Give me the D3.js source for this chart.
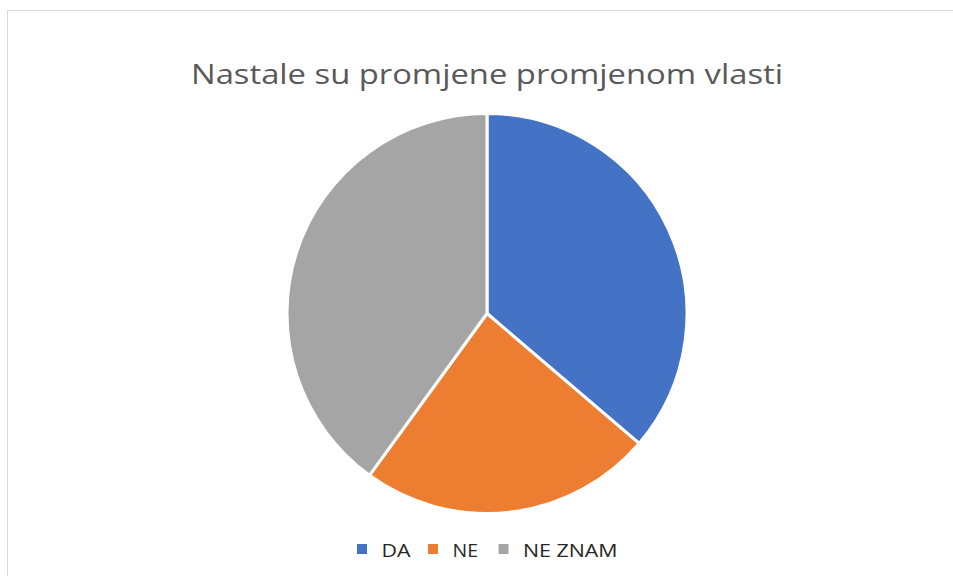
<!DOCTYPE html>
<html><head><meta charset="utf-8">
<script src="https://cdn.jsdelivr.net/npm/d3@7"></script>
<style>body{margin:0;background:#fff}svg{display:block}</style>
</head><body>
<script>
const categories = ["DA", "NE", "NE ZNAM"];
const values = [29, 19, 32];
const colors = ["#4472C4", "#ED7D31", "#A5A5A5"];
const title = "Nastale su promjene promjenom vlasti";

const W = 953, H = 576;
const svg = d3.select("body").append("svg").attr("width", W).attr("height", H);
svg.append("rect").attr("x", 7.5).attr("y", 10.5).attr("width", W).attr("height", H)
  .attr("fill", "#fff").attr("stroke", "#d9d9d9").attr("stroke-width", 1);

svg.append("text").attr("x", 487).attr("y", 84).attr("text-anchor", "middle")
  .attr("font-family", "Open Sans, Liberation Sans, sans-serif").attr("font-size", 28)
  .attr("fill", "#595959").attr("textLength", 592).attr("lengthAdjust", "spacingAndGlyphs").text(title);

const data = categories.map((c, i) => ({c, v: values[i], col: colors[i]}));
const pie = d3.pie().sort(null).value(d => d.v);
const arc = d3.arc().innerRadius(0).outerRadius(200);
const g = svg.append("g").attr("transform", "translate(487,313.5)");
g.selectAll("path").data(pie(data)).join("path")
  .attr("d", arc).attr("fill", d => d.data.col)
  .attr("stroke", "#fff").attr("stroke-width", 3).attr("stroke-linejoin", "round");

const legX = [357, 428, 498.5];
const legW = [29, 25.5, 94.5];
const lg = svg.append("g");
data.forEach((d, i) => {
  lg.append("rect").attr("x", legX[i]).attr("y", 544).attr("width", 10).attr("height", 10).attr("fill", d.col);
  lg.append("text").attr("x", legX[i] + 24.5).attr("y", 556.5)
    .attr("font-family", "Open Sans, Liberation Sans, sans-serif").attr("font-size", 19)
    .attr("fill", "#262626").attr("textLength", legW[i]).attr("lengthAdjust", "spacingAndGlyphs").text(d.c);
});
</script>
</body></html>
